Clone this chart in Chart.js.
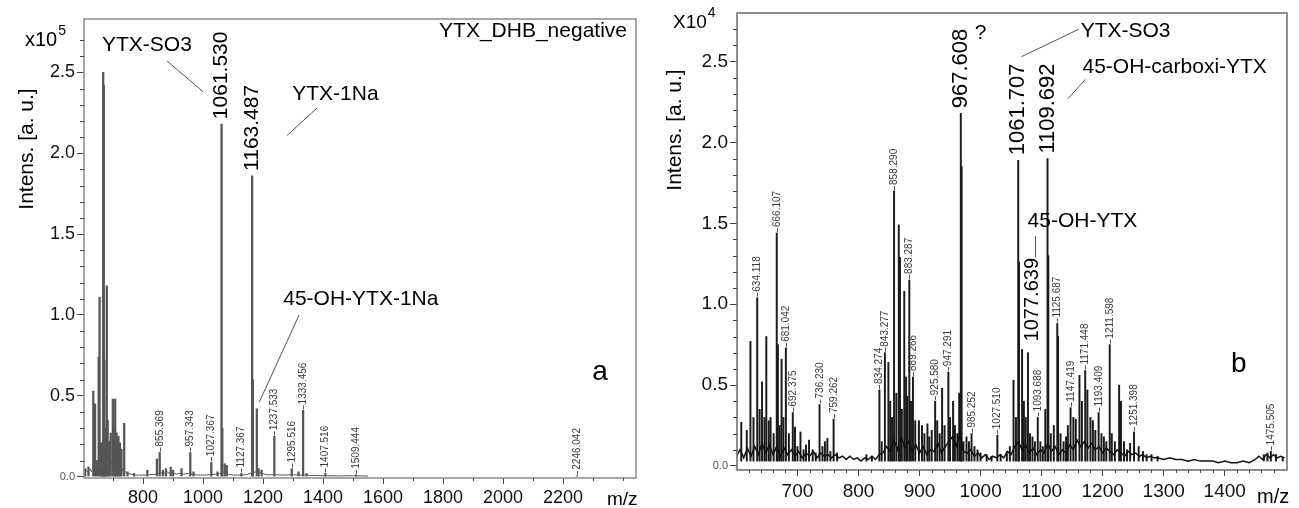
<!DOCTYPE html>
<html>
<head>
<meta charset="utf-8">
<script src="https://cdn.jsdelivr.net/npm/chart.js@4.4.1/dist/chart.umd.min.js"></script>
<style>
    html, body { margin: 0; padding: 0; background: #fff; }
    #wrap { position: relative; width: 1299px; height: 508px; overflow: hidden; }
    canvas { position: absolute; top: 0; }
    #chartA { left: 0; }
    #chartB { left: 650px; }
</style>
</head>
<body>
<div id="wrap">
    <canvas id="chartA" width="650" height="508"></canvas>
    <canvas id="chartB" width="649" height="508"></canvas>
</div>
<script>
// ---------- panel a : YTX_DHB_negative (intensity x10^5) ----------
const peakMzA = [607, 618, 634, 640, 646, 652, 655, 660, 664, 667,
    669, 671, 675, 679, 682, 687, 692, 699, 703, 707,
    712, 715, 718, 723, 728, 737, 748, 770, 814, 846,
    855.369, 866, 876, 892, 900, 928, 957.343, 968, 1027.367, 1048,
    1061.530, 1064, 1072, 1079, 1127.367, 1163.487, 1166, 1179, 1185, 1195,
    1237.533, 1295.516, 1318, 1333.456, 1345, 1407.516, 1509.444, 2246.042];
const peakIntA = [0.05, 0.06, 0.53, 0.45, 0.10, 0.74, 1.11, 0.21, 0.15, 2.50,
    2.42, 0.72, 0.30, 1.18, 0.35, 0.22, 0.27, 0.48, 0.30, 0.48,
    0.27, 0.20, 0.25, 0.21, 0.17, 0.33, 0.03, 0.02, 0.04, 0.11,
    0.15, 0.04, 0.05, 0.06, 0.04, 0.05, 0.15, 0.03, 0.09, 0.03,
    2.18, 0.30, 0.08, 0.07, 0.02, 1.86, 0.60, 0.42, 0.05, 0.04,
    0.25, 0.05, 0.03, 0.41, 0.02, 0.02, 0.012, 0.006];
const noiseA = [[603, 0.02], [610, 0.04], [616, 0.03], [622, 0.05], [628, 0.03], [634, 0.06], [640, 0.05], [646, 0.08],
    [652, 0.06], [658, 0.10], [664, 0.07], [670, 0.12], [676, 0.08], [682, 0.10], [688, 0.06], [694, 0.09],
    [700, 0.06], [706, 0.08], [712, 0.05], [718, 0.07], [724, 0.04], [730, 0.05], [736, 0.03], [742, 0.03],
    [750, 0.02], [760, 0.015], [780, 0.01], [800, 0.01], [820, 0.012], [840, 0.015], [850, 0.02], [860, 0.025],
    [870, 0.02], [880, 0.03], [890, 0.02], [900, 0.025], [910, 0.015], [920, 0.02], [935, 0.015], [950, 0.02],
    [965, 0.015], [980, 0.01], [1000, 0.01], [1020, 0.012], [1040, 0.015], [1055, 0.02], [1070, 0.03], [1085, 0.015],
    [1100, 0.01], [1120, 0.01], [1140, 0.012], [1160, 0.02], [1175, 0.03], [1190, 0.025], [1210, 0.012], [1240, 0.012],
    [1270, 0.01], [1300, 0.012], [1330, 0.01], [1360, 0.008], [1400, 0.006], [1450, 0.005], [1500, 0.006], [1550, 0.004]];
const smallLabelsA = [855.369, 957.343, 1027.367, 1127.367, 1237.533, 1295.516, 1333.456, 1407.516, 1509.444, 2246.042];
const bigLabelsA = [1061.530, 1163.487];
const xTicksA = [800, 1000, 1200, 1400, 1600, 1800, 2000, 2200];
const xMinorA = [700, 900, 1100, 1300, 1500, 1700, 1900, 2100, 2300, 2400];

// ---------- panel b : intensity x10^4 ----------
const peakMzB = [608, 617, 623, 628, 634.118, 638, 642, 646, 649, 653,
    656, 661, 666.107, 668, 671, 674, 677, 681.042, 686, 692.375,
    696, 700, 705, 710, 714, 719, 725, 730, 736.230, 741,
    745, 749, 754, 759.262, 765, 813, 822, 834.274, 838, 843.277,
    849, 852, 855, 858.290, 862, 866, 868, 871, 875, 878,
    880, 883.287, 886, 889.266, 893, 899, 904, 908, 913, 916,
    920, 925.580, 929, 933, 937, 941, 947.291, 950, 955, 958,
    962, 965, 967.608, 969, 972, 977, 981, 985.252, 990, 995,
    1000, 1010, 1018, 1027.510, 1033, 1043, 1048, 1054, 1058, 1061.707,
    1063, 1068, 1071, 1074, 1077.639, 1081, 1085, 1089, 1093.688, 1098,
    1102, 1106, 1109.692, 1111, 1115, 1120, 1125.687, 1127, 1131, 1136,
    1140, 1143, 1147.419, 1152, 1156, 1162, 1166, 1171.448, 1175, 1180,
    1184, 1188, 1193.409, 1198, 1202, 1206, 1211.598, 1215, 1220, 1227,
    1230, 1235, 1240, 1245, 1251.398, 1259, 1266, 1272, 1280, 1290,
    1464, 1470, 1475.505, 1484, 1495];
const peakIntB = [0.27, 0.22, 0.77, 0.30, 1.04, 0.35, 0.52, 0.30, 0.80, 0.28,
    0.30, 0.20, 1.44, 0.75, 0.25, 0.66, 0.30, 0.73, 0.20, 0.33,
    0.24, 0.12, 0.21, 0.10, 0.13, 0.16, 0.10, 0.08, 0.38, 0.12,
    0.15, 0.17, 0.09, 0.29, 0.08, 0.07, 0.06, 0.47, 0.15, 0.70,
    0.64, 0.40, 0.30, 1.70, 0.45, 1.49, 1.29, 0.35, 1.08, 0.55,
    0.43, 1.15, 0.40, 0.55, 0.28, 0.28, 0.25, 0.20, 0.26, 0.18,
    0.22, 0.40, 0.28, 0.20, 0.48, 0.25, 0.58, 0.30, 0.40, 0.25,
    0.20, 0.45, 2.18, 1.85, 0.15, 0.18, 0.15, 0.20, 0.12, 0.10,
    0.08, 0.07, 0.06, 0.19, 0.07, 0.09, 0.12, 0.53, 0.30, 1.89,
    1.26, 0.72, 0.40, 0.30, 0.70, 0.20, 0.18, 0.15, 0.30, 0.15,
    0.12, 0.35, 1.90, 1.30, 0.20, 0.25, 0.88, 0.80, 0.20, 0.15,
    0.18, 0.25, 0.36, 0.30, 0.29, 0.56, 0.40, 0.59, 0.47, 0.30,
    0.28, 0.22, 0.33, 0.20, 0.18, 0.15, 0.75, 0.20, 0.15, 0.50,
    0.40, 0.15, 0.10, 0.14, 0.21, 0.12, 0.09, 0.07, 0.07, 0.06,
    0.07, 0.08, 0.09, 0.07, 0.05];
const noiseB = [[600, 0.06], [606, 0.10], [612, 0.05], [618, 0.11], [624, 0.06], [630, 0.12], [636, 0.07], [642, 0.14],
    [648, 0.08], [654, 0.13], [660, 0.07], [666, 0.12], [672, 0.06], [678, 0.11], [684, 0.07], [690, 0.10],
    [696, 0.06], [702, 0.09], [708, 0.05], [714, 0.08], [720, 0.06], [726, 0.09], [732, 0.05], [738, 0.08],
    [744, 0.06], [750, 0.07], [756, 0.05], [762, 0.07], [768, 0.05], [774, 0.06], [780, 0.04], [786, 0.06],
    [792, 0.04], [798, 0.05], [804, 0.03], [810, 0.05], [816, 0.04], [822, 0.06], [828, 0.04], [834, 0.07],
    [840, 0.08], [846, 0.12], [852, 0.09], [858, 0.16], [864, 0.10], [870, 0.18], [876, 0.11], [882, 0.15],
    [888, 0.09], [894, 0.13], [900, 0.08], [906, 0.12], [912, 0.07], [918, 0.10], [924, 0.09], [930, 0.14],
    [936, 0.08], [942, 0.12], [948, 0.15], [954, 0.18], [960, 0.12], [966, 0.20], [972, 0.09], [978, 0.08],
    [984, 0.10], [990, 0.06], [996, 0.08], [1002, 0.05], [1008, 0.07], [1014, 0.04], [1020, 0.06], [1026, 0.05],
    [1032, 0.07], [1038, 0.05], [1044, 0.09], [1050, 0.07], [1056, 0.12], [1062, 0.15], [1068, 0.10], [1074, 0.13],
    [1080, 0.08], [1086, 0.11], [1092, 0.07], [1098, 0.10], [1104, 0.08], [1110, 0.14], [1116, 0.09], [1122, 0.12],
    [1128, 0.07], [1134, 0.10], [1140, 0.08], [1146, 0.13], [1152, 0.10], [1158, 0.16], [1164, 0.12], [1170, 0.15],
    [1176, 0.11], [1182, 0.14], [1188, 0.10], [1194, 0.12], [1200, 0.08], [1206, 0.11], [1212, 0.09], [1218, 0.07],
    [1224, 0.10], [1230, 0.08], [1236, 0.06], [1242, 0.09], [1248, 0.07], [1254, 0.08], [1260, 0.06], [1266, 0.07],
    [1272, 0.05], [1278, 0.06], [1284, 0.05], [1290, 0.05], [1300, 0.04], [1310, 0.05], [1320, 0.04], [1330, 0.04],
    [1340, 0.03], [1350, 0.04], [1360, 0.03], [1370, 0.03], [1380, 0.03], [1390, 0.02], [1400, 0.03], [1410, 0.02],
    [1420, 0.02], [1430, 0.03], [1440, 0.02], [1450, 0.04], [1456, 0.06], [1462, 0.04], [1468, 0.07], [1474, 0.05],
    [1480, 0.07], [1486, 0.05], [1492, 0.06], [1498, 0.05]];
const smallLabelsB = [634.118, 666.107, 681.042, 692.375, 736.230, 759.262, 834.274, 843.277, 858.290, 883.287,
    889.266, 925.580, 947.291, 985.252, 1027.510, 1093.688, 1125.687, 1147.419, 1171.448, 1193.409,
    1211.598, 1251.398, 1475.505];
const bigLabelsB = [967.608, 1061.707, 1109.692];
const xTicksB = [700, 800, 900, 1000, 1100, 1200, 1300, 1400];
const xMinorB = [620, 640, 660, 680, 720, 740, 760, 780, 820, 840, 860, 880, 920, 940, 960, 980,
    1020, 1040, 1060, 1080, 1120, 1140, 1160, 1180, 1220, 1240, 1260, 1280, 1320, 1340, 1360, 1380,
    1420, 1440, 1460, 1480];

const yTicks = [0, 0.5, 1.0, 1.5, 2.0, 2.5];
const yMinor = [0.1, 0.2, 0.3, 0.4, 0.6, 0.7, 0.8, 0.9, 1.1, 1.2, 1.3, 1.4, 1.6, 1.7, 1.8, 1.9,
    2.1, 2.2, 2.3, 2.4, 2.6, 2.7];

const FONT = "'Liberation Sans', Arial, sans-serif";

function vtext(ctx, text, x, y, size, color) {
    ctx.save();
    ctx.translate(x, y);
    ctx.rotate(-Math.PI / 2);
    ctx.font = `${size}px ${FONT}`;
    ctx.fillStyle = color;
    ctx.textAlign = 'left';
    ctx.textBaseline = 'middle';
    ctx.fillText(text, 0, 0);
    ctx.restore();
}

// annotations, frame, minor ticks and labels drawn through the chart scales
function notesPlugin(p) {
    return {
        id: 'notes-' + p.canvas,
        afterDatasetsDraw(chart) {
            const { ctx, chartArea: a } = chart;
            const px = v => chart.scales.x.getPixelForValue(v);
            const py = v => chart.scales.y.getPixelForValue(v);
            const heightAt = mz => p.peakInt[p.peakMz.indexOf(mz)];

            ctx.save();
            ctx.strokeStyle = p.frameColor;
            ctx.lineWidth = 1.5;
            ctx.strokeRect(a.left, a.top, a.right - a.left, a.bottom - a.top);

            ctx.strokeStyle = '#444';
            ctx.lineWidth = 1;
            ctx.beginPath();
            p.xMinor.forEach(v => {
                const x = Math.round(px(v)) + 0.5;
                ctx.moveTo(x, a.bottom);
                ctx.lineTo(x, a.bottom + 3);
            });
            yMinor.forEach(v => {
                const y = Math.round(py(v)) + 0.5;
                ctx.moveTo(a.left, y);
                ctx.lineTo(a.left - 4, y);
            });
            ctx.stroke();

            // small peak labels
            ctx.strokeStyle = '#555';
            p.smallLabels.forEach(mz => {
                const x = Math.round(px(mz)) + 0.5;
                const y = py(heightAt(mz));
                ctx.beginPath();
                ctx.moveTo(x, y - 1);
                ctx.lineTo(x, y - 5);
                ctx.stroke();
                vtext(ctx, mz.toFixed(3), x, y - 6, 10, '#3a3a3a');
            });

            // big peak labels
            p.bigLabels.forEach(mz => vtext(ctx, mz.toFixed(3), px(mz), py(heightAt(mz)) - 5, p.bigSize, '#000'));
            p.callouts.forEach(c => vtext(ctx, c.text, px(c.mz), py(c.val), c.size, '#000'));

            // leader lines
            ctx.strokeStyle = '#555';
            ctx.lineWidth = 1;
            p.leaders.forEach(([m1, v1, m2, v2]) => {
                ctx.beginPath();
                ctx.moveTo(px(m1), py(v1));
                ctx.lineTo(px(m2), py(v2));
                ctx.stroke();
            });

            // text notes
            ctx.fillStyle = '#000';
            ctx.textBaseline = 'alphabetic';
            p.notes.forEach(n => {
                ctx.font = `${n.size}px ${FONT}`;
                ctx.textAlign = n.align;
                ctx.fillText(n.text, px(n.mz), py(n.val));
            });

            // exponent marker
            ctx.textAlign = 'left';
            ctx.font = `${p.exp.size}px ${FONT}`;
            ctx.fillText(p.exp.base, p.exp.x, p.exp.y);
            const w = ctx.measureText(p.exp.base).width;
            ctx.font = `14px ${FONT}`;
            ctx.fillText(p.exp.power, p.exp.x + w + 1, p.exp.y - 11);

            // axis titles
            ctx.save();
            ctx.translate(p.title.x, p.title.y);
            ctx.rotate(-Math.PI / 2);
            ctx.font = `21px ${FONT}`;
            ctx.textAlign = 'center';
            ctx.textBaseline = 'middle';
            ctx.fillText('Intens. [a. u.]', 0, 0);
            ctx.restore();

            ctx.font = `${p.mzLabel.size}px ${FONT}`;
            ctx.textAlign = 'left';
            ctx.fillText('m/z', p.mzLabel.x, p.mzLabel.y);
            ctx.restore();
        }
    };
}

function buildSpectrum(p) {
    const sticks = p.peakMz.map((mz, i) => ({ x: mz, y: p.peakInt[i] }));
    const noise = p.noise.map(([mz, v]) => ({ x: mz, y: v }));

    return new Chart(document.getElementById(p.canvas), {
        type: 'bar',
        data: {
            datasets: [
                {
                    type: 'line',
                    data: noise,
                    borderColor: p.lineColor,
                    borderWidth: p.lineWidth,
                    pointRadius: 0,
                    tension: 0,
                    order: 0
                },
                {
                    type: 'bar',
                    data: sticks,
                    backgroundColor: p.stickColor,
                    barThickness: p.stickWidth,
                    base: p.stickBase,
                    grouped: false,
                    order: 1
                }
            ]
        },
        options: {
            responsive: false,
            animation: false,
            devicePixelRatio: 1,
            events: [],
            layout: { padding: p.padding },
            plugins: { legend: { display: false }, tooltip: { enabled: false } },
            scales: {
                x: {
                    type: 'linear',
                    offset: false,
                    min: p.xMin,
                    max: p.xMax,
                    afterBuildTicks: s => { s.ticks = p.xTicks.map(v => ({ value: v })); },
                    afterFit: s => { s.height = p.xAxisH; s.paddingLeft = 0; s.paddingRight = 0; },
                    border: { display: false },
                    grid: { offset: false, drawOnChartArea: false, tickLength: 6, tickColor: '#444', tickWidth: 1 },
                    ticks: {
                        autoSkip: false,
                        maxRotation: 0,
                        padding: p.xPad,
                        color: '#111',
                        font: { family: FONT, size: p.tickSize },
                        callback: v => String(v)
                    }
                },
                y: {
                    type: 'linear',
                    min: p.yMin,
                    max: p.yMax,
                    afterBuildTicks: s => { s.ticks = yTicks.map(v => ({ value: v })); },
                    afterFit: s => { s.width = p.yAxisW; s.paddingTop = 0; s.paddingBottom = 0; },
                    border: { display: false },
                    grid: { drawOnChartArea: false, tickLength: 7, tickColor: '#444', tickWidth: 1 },
                    ticks: {
                        padding: 2,
                        color: ctx => (ctx.tick && ctx.tick.value === 0 ? '#555' : '#111'),
                        font: ctx => ({ family: FONT, size: ctx.tick && ctx.tick.value === 0 ? 11 : p.tickSize }),
                        callback: v => v.toFixed(1)
                    }
                }
            }
        },
        plugins: [notesPlugin(p)]
    });
}

buildSpectrum({
    canvas: 'chartA',
    peakMz: peakMzA, peakInt: peakIntA, noise: noiseA,
    smallLabels: smallLabelsA, bigLabels: bigLabelsA, bigSize: 21,
    xTicks: xTicksA, xMinor: xMinorA,
    xMin: 603, xMax: 2443, yMin: -0.008, yMax: 2.83,
    padding: { left: 0, right: 14, top: 19, bottom: 0 }, yAxisW: 84, xAxisH: 30, xPad: 3,
    tickSize: 18, stickColor: '#555', stickWidth: 1.6, stickBase: 0.004,
    lineColor: '#5a5a5a', lineWidth: 1, frameColor: '#8c8c8c',
    notes: [
        { text: 'YTX-SO3', mz: 663, val: 2.63, align: 'left', size: 21 },
        { text: 'YTX-1Na', mz: 1297, val: 2.33, align: 'left', size: 21 },
        { text: '45-OH-YTX-1Na', mz: 1267, val: 1.06, align: 'left', size: 21 },
        { text: 'YTX_DHB_negative', mz: 2413, val: 2.72, align: 'right', size: 21 },
        { text: 'a', mz: 2323, val: 0.60, align: 'center', size: 28 }
    ],
    leaders: [[880, 2.57, 1000, 2.38], [1380, 2.28, 1280, 2.11], [1320, 1.00, 1187, 0.46]],
    callouts: [],
    exp: { base: 'x10', power: '5', x: 25, y: 46, size: 20 },
    title: { x: 27, y: 149 },
    mzLabel: { x: 607, y: 505, size: 19 }
});

buildSpectrum({
    canvas: 'chartB',
    peakMz: peakMzB, peakInt: peakIntB, noise: noiseB,
    smallLabels: smallLabelsB, bigLabels: bigLabelsB, bigSize: 22,
    xTicks: xTicksB, xMinor: xMinorB,
    xMin: 601, xMax: 1502, yMin: -0.025, yMax: 2.80,
    padding: { left: 0, right: 12, top: 13, bottom: 0 }, yAxisW: 87, xAxisH: 38, xPad: 4,
    tickSize: 19, stickColor: '#1a1a1a', stickWidth: 1.3, stickBase: 0.03,
    lineColor: '#111', lineWidth: 1.5, frameColor: '#6a6a6a',
    notes: [
        { text: 'YTX-SO3', mz: 1164, val: 2.65, align: 'left', size: 21 },
        { text: '45-OH-carboxi-YTX', mz: 1167, val: 2.43, align: 'left', size: 21 },
        { text: '45-OH-YTX', mz: 1077, val: 1.48, align: 'left', size: 21 },
        { text: '?', mz: 1000, val: 2.64, align: 'center', size: 21 },
        { text: 'b', mz: 1423, val: 0.58, align: 'center', size: 28 }
    ],
    leaders: [[1067, 2.53, 1161, 2.70], [1143, 2.27, 1172, 2.39], [1090, 1.42, 1090, 1.29]],
    callouts: [{ text: '1077.639', mz: 1085, val: 0.77, size: 20 }],
    exp: { base: 'X10', power: '4', x: 23, y: 28, size: 19 },
    title: { x: 25, y: 130 },
    mzLabel: { x: 607, y: 503, size: 20 }
});
</script>
</body>
</html>
